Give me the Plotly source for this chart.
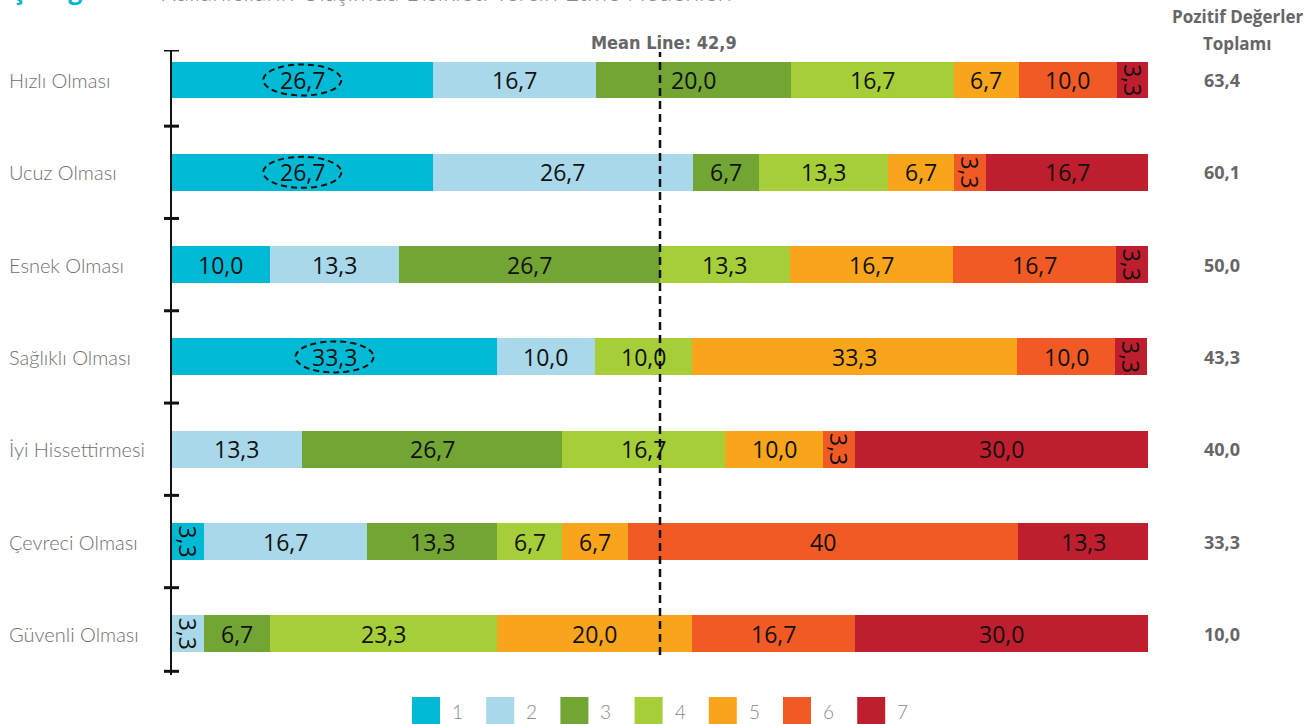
import plotly.graph_objects as go

# Reasons for choosing the bicycle, share of answers on a 1-7 scale
categories = ["Hızlı Olması", "Ucuz Olması", "Esnek Olması", "Sağlıklı Olması",
              "İyi Hissettirmesi", "Çevreci Olması", "Güvenli Olması"]
scale_names = ["1", "2", "3", "4", "5", "6", "7"]

s1 = [26.7, 26.7, 10.0, 33.3, 0.0, 3.3, 0.0]
s2 = [16.7, 26.7, 13.3, 10.0, 13.3, 16.7, 3.3]
s3 = [20.0, 6.7, 26.7, 0.0, 26.7, 13.3, 6.7]
s4 = [16.7, 13.3, 13.3, 10.0, 16.7, 6.7, 23.3]
s5 = [6.7, 6.7, 16.7, 33.3, 10.0, 6.7, 20.0]
s6 = [10.0, 3.3, 16.7, 10.0, 3.3, 40, 16.7]
s7 = [3.3, 16.7, 3.3, 3.3, 30.0, 13.3, 30.0]

series = [s1, s2, s3, s4, s5, s6, s7]
colors = ["#00B9D4", "#A8D8EA", "#72A534", "#A6CE39", "#F8A51C", "#F15A25", "#BE1E2D"]

highlighted = [(0, 0), (1, 0), (3, 0)]  # (row, series) circled values
midpoint = 50

W, H = 1310, 724
ML, MR, MT, MB = 172, 162, 50, 49
PW = W - ML - MR
PH = H - MT - MB
Y_TOP, Y_BOTTOM = -0.325, 6.446


def px_to_paper_x(px):
    return (px - ML) / PW


def px_to_paper_y(py):
    return (H - MB - py) / PH


def fmt(v):
    if isinstance(v, int):
        return str(v)
    return f"{v:.1f}".replace(".", ",")


rows = list(range(len(categories)))
fig = go.Figure()
for name, vals, col in zip(scale_names, series, colors):
    fig.add_trace(go.Bar(
        y=rows, x=vals, orientation="h", width=0.40, name=name,
        marker=dict(color=col, line=dict(width=0)), showlegend=False,
        hoverinfo="x",
    ))

annotations = []
shapes = []
value_font = dict(family="Open Sans, sans-serif", size=23, color="#111111")

# segment labels
for r in rows:
    left = 0.0
    for k, vals in enumerate(series):
        v = vals[r]
        if v > 0:
            cx = left + v / 2
            narrow = v < 5
            annotations.append(dict(
                x=cx, y=r, xref="x", yref="y", text=fmt(v), showarrow=False,
                font=value_font, textangle=90 if narrow else 0,
                xanchor="center", yanchor="middle",
            ))
            if (r, k) in highlighted:
                shapes.append(dict(
                    type="circle", xref="x", yref="y",
                    x0=cx - 4.0, x1=cx + 4.0, y0=r - 0.168, y1=r + 0.168,
                    line=dict(color="#111111", width=2, dash="6px,4px"),
                ))
        left += v

# category names on the left
for r, c in zip(rows, categories):
    annotations.append(dict(
        x=px_to_paper_x(7), y=r, xref="paper", yref="y", text=c, showarrow=False,
        xanchor="left", yanchor="middle",
        font=dict(family="Lato, Open Sans, sans-serif", size=20, color="#707070", weight=300),
    ))

# positive totals (scales 1-3)
totals = [round(s1[r] + s2[r] + s3[r], 1) for r in rows]
bold_grey = dict(family="Open Sans, sans-serif", size=18, color="#666666", weight="bold")
for r, t in zip(rows, totals):
    annotations.append(dict(
        x=px_to_paper_x(1222), y=r, xref="paper", yref="y", text=fmt(t),
        showarrow=False, xanchor="center", yanchor="middle", font=bold_grey,
    ))
for txt, py in [("Pozitif Değerler", 16), ("Toplamı", 44)]:
    annotations.append(dict(
        x=px_to_paper_x(1237), y=px_to_paper_y(py), xref="paper", yref="paper",
        text=txt, showarrow=False, xanchor="center", yanchor="middle",
        font=dict(family="Open Sans, sans-serif", size=17, color="#666666", weight="bold"),
    ))

mean_total = sum(totals) / len(totals)
annotations.append(dict(
    x=px_to_paper_x(664), y=px_to_paper_y(43), xref="paper", yref="paper",
    text=f"Mean Line: {fmt(round(mean_total, 1))}", showarrow=False,
    xanchor="center", yanchor="middle",
    font=dict(family="Liberation Sans Narrow, DejaVu Sans Condensed, sans-serif",
              size=18, color="#666666", weight="bold"),
))

# dashed reference line through the middle of the scale
shapes.append(dict(
    type="line", xref="x", yref="paper", x0=midpoint, x1=midpoint,
    y0=px_to_paper_y(655), y1=px_to_paper_y(52),
    line=dict(color="#111111", width=2.5, dash="8px,5px"),
))

# crossing tick marks on the category axis
for yb in [Y_TOP] + [r + 0.5 for r in rows[:-1]] + [Y_BOTTOM - 0.04]:
    shapes.append(dict(
        type="line", xref="paper", yref="y", xsizemode="pixel", xanchor=0,
        x0=-8, x1=7, y0=yb, y1=yb, line=dict(color="#111111", width=3),
    ))

# colour key at the bottom
for i, (name, col) in enumerate(zip(scale_names, colors)):
    x0 = 412 + i * 74.2
    shapes.append(dict(
        type="rect", xref="paper", yref="paper",
        x0=px_to_paper_x(x0), x1=px_to_paper_x(x0 + 28),
        y0=px_to_paper_y(727), y1=px_to_paper_y(697),
        line=dict(width=0), fillcolor=col,
    ))
    annotations.append(dict(
        x=px_to_paper_x(x0 + 38), y=px_to_paper_y(711), xref="paper", yref="paper",
        text=name, showarrow=False, xanchor="left", yanchor="middle",
        font=dict(family="Lato, Open Sans, sans-serif", size=19, color="#8a8a8a", weight=300),
    ))

# chart heading (runs off the top edge)
annotations.append(dict(
    x=px_to_paper_x(8), y=px_to_paper_y(8), xref="paper", yref="paper",
    text="Çizelge 13:", showarrow=False, xanchor="left", yanchor="bottom",
    font=dict(family="Open Sans, sans-serif", size=25, color="#00B5D1", weight="bold"),
))
annotations.append(dict(
    x=px_to_paper_x(158), y=px_to_paper_y(8), xref="paper", yref="paper",
    text="Kullanıcıların Ulaşımda Bisikleti Tercih Etme Nedenleri", showarrow=False,
    xanchor="left", yanchor="bottom",
    font=dict(family="Lato, Open Sans, sans-serif", size=25, color="#8a8a8a", weight=300),
))

fig.update_layout(
    width=W, height=H, barmode="stack", bargap=0,
    margin=dict(l=ML, r=MR, t=MT, b=MB, pad=0),
    paper_bgcolor="white", plot_bgcolor="white",
    xaxis=dict(range=[0, 100], visible=False, fixedrange=True),
    yaxis=dict(range=[Y_BOTTOM, Y_TOP], showline=True, linecolor="#111111", linewidth=2,
               showticklabels=False, ticks="", showgrid=False, zeroline=False,
               fixedrange=True),
    annotations=annotations, shapes=shapes,
)

fig.write_html("out.html")
